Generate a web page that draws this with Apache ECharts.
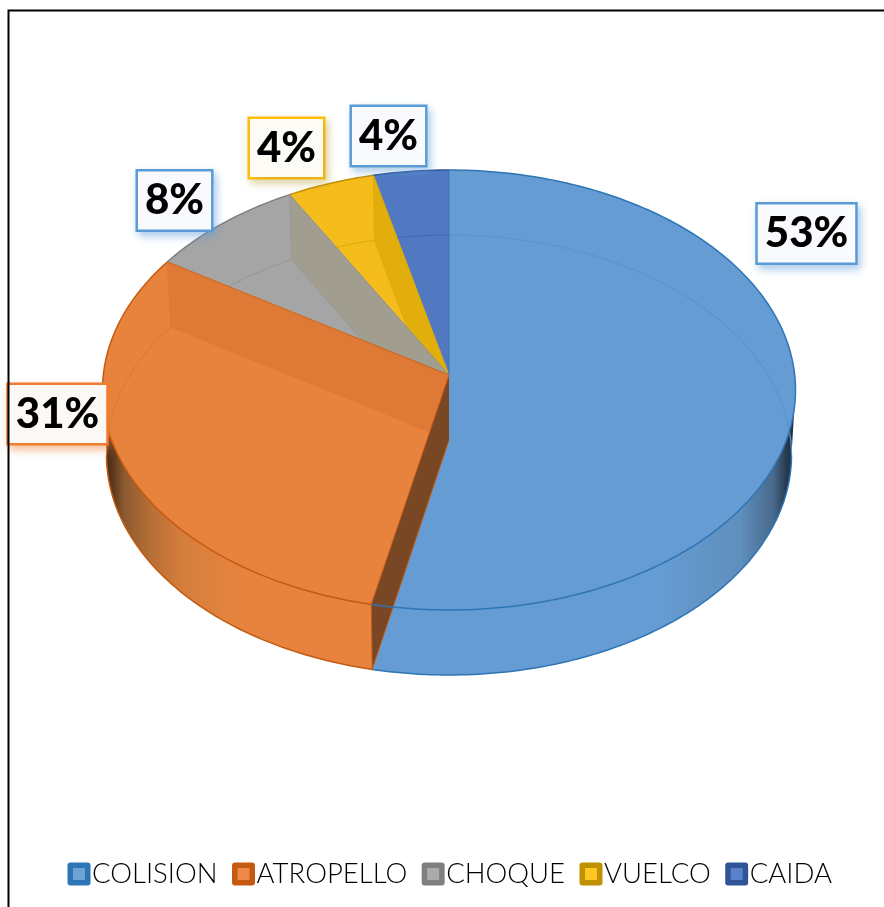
<!DOCTYPE html>
<html>
<head>
<meta charset="utf-8">
<title>Pie</title>
<script src="https://cdn.jsdelivr.net/npm/echarts@6/dist/echarts.min.js"></script>
<style>
  html, body { margin: 0; padding: 0; background: #fff; }
  #chart { width: 884px; height: 907px; }
</style>
</head>
<body>
<div id="chart"></div>
<script>
var categories = ['COLISION', 'ATROPELLO', 'CHOQUE', 'VUELCO', 'CAIDA']
var sliceValues = [53.6, 31.3, 7.5, 4.1, 3.5]
var percentLabels = ['53%', '31%', '8%', '4%', '4%']

// styling, one per category
var faceColors = ['#659cd3', '#e8833e', '#a5a5a5', '#f5bd1b', '#5079c2']
var lineColors = ['#2e75b6', '#c55a11', '#7f7f7f', '#bf9000', '#2f5597']
var edgeColors = [null, '#cc6418', '#8f9090', '#d9a50c', '#3f6fbb']
var wallColors = [null, '#df7a36', '#a19d8f', '#e2ae0b', null]
var innerLineColors = ['#5a94cc', '#dd7b36', '#999999', '#e2ae0b', '#3f6bb6']
var legendInner = ['#6ea3d6', '#ed8a48', '#ababab', '#ffc71f', '#5a82cc']
var boxBorders = ['#5b9bd5', '#ed7d31', '#5b9bd5', '#ffc000', '#5b9bd5']
var boxShadows = ['rgba(91,155,213,0.45)', 'rgba(237,125,49,0.45)', 'rgba(91,155,213,0.45)', 'rgba(190,160,60,0.4)', 'rgba(91,155,213,0.45)']
var boxFills = ['#f8fafe', '#fcf8f5', '#f8fafe', '#fcfbf5', '#f8fafe']
var boxCenters = [[806.5, 233.5], [57.5, 414], [174.5, 200.5], [286.5, 148], [388.5, 136]]

var topEllipse = { cx: 449, cy: 390, rx: 346.5, ry: 220 }
var baseEllipse = { cx: 449, cy: 455, rx: 342.5, ry: 220 }
var apexTop = [449, 375]
var apexBase = [449, 440]

var total = sliceValues.reduce(function (a, b) { return a + b }, 0)

// start / end angle of each slice, clockwise from 12 o'clock
var sliceAngles = []
var running = 0
sliceValues.forEach(function (v) {
  var start = running / total * 360
  running += v
  sliceAngles.push([start, running / total * 360])
})

function onEllipse(e, deg) {
  var r = deg * Math.PI / 180
  return [e.cx + e.rx * Math.sin(r), e.cy - e.ry * Math.cos(r)]
}

function arcPoints(e, from, to) {
  var pts = []
  if (to <= from) return pts
  for (var d = from; d < to; d += 1) pts.push(onEllipse(e, d))
  pts.push(onEllipse(e, to))
  return pts
}

function poly(points, fill, z2) {
  return {
    type: 'polygon',
    z2: z2,
    shape: { points: points },
    style: { fill: fill }
  }
}

function line(points, stroke, z2, width) {
  return {
    type: 'polyline',
    z2: z2,
    shape: { points: points },
    style: { fill: null, stroke: stroke, lineWidth: width || 1.5 }
  }
}

function sideGradient(i) {
  if (i === 0) {
    return new echarts.graphic.LinearGradient(0, 0, 1, 0, [
      { offset: 0, color: '#659cd3' },
      { offset: 0.68, color: '#659cd3' },
      { offset: 0.87, color: '#5f8fbc' },
      { offset: 0.948, color: '#48698c' },
      { offset: 0.98, color: '#26384c' },
      { offset: 1, color: '#1f2e3e' }
    ])
  }
  return new echarts.graphic.LinearGradient(0, 0, 1, 0, [
    { offset: 0, color: '#3a2515' },
    { offset: 0.04, color: '#5e3a1e' },
    { offset: 0.08, color: '#8a5a30' },
    { offset: 0.175, color: '#b66e35' },
    { offset: 0.3, color: '#d57e3d' },
    { offset: 0.485, color: '#e5833e' },
    { offset: 1, color: '#e8833e' }
  ])
}

function renderSlice(i) {
  var a = sliceAngles[i]
  var start = a[0]
  var end = a[1]
  var children = []

  // outside skirt, only the front half of the disc shows it
  var frontFrom = Math.max(start, 90)
  var frontTo = Math.min(end, 270)
  if (frontTo > frontFrom) {
    var topArc = arcPoints(topEllipse, frontFrom, frontTo)
    var baseArc = arcPoints(baseEllipse, frontFrom, frontTo)
    children.push(poly(topArc.concat(baseArc.slice().reverse()), sideGradient(i), 1))
    children.push(line(baseArc, lineColors[i], 2, 1.5))
  }

  // top face
  var rim = arcPoints(topEllipse, start, end)
  children.push(poly([apexTop].concat(rim), faceColors[i], 3))

  // the base circle seen through the face
  var inner = []
  if (start < 90) inner = arcPoints(baseEllipse, start, Math.min(end, 90))
  if (end > 270) inner = arcPoints(baseEllipse, Math.max(start, 270), end)
  if (inner.length) children.push(line(inner, innerLineColors[i], 4, 1.2))

  // wall hanging under the end edge, stacked yellow < gray < orange
  var endTop = onEllipse(topEllipse, end)
  var endBase = onEllipse(baseEllipse, end)
  if (wallColors[i]) {
    children.push(poly([apexTop, endTop, endBase, apexBase], wallColors[i], 20 - i))
    children.push(line([apexBase, endBase, endTop], innerLineColors[i], 20 - i, 1))
  }

  // inside wall of the cut between the first slice and the orange one
  if (i === 1) {
    var startTop = onEllipse(topEllipse, start)
    var startBase = onEllipse(baseEllipse, start)
    children.push(poly([apexTop, startTop, startBase, apexBase], '#7a4724', 25))
    children.push(line([apexTop, startTop, startBase, apexBase], lineColors[1], 26, 1))
  }

  // rim and end edge
  children.push(line(rim, lineColors[i], 30, 1.5))
  if (edgeColors[i]) children.push(line([apexTop, endTop], edgeColors[i], 28, 1))

  return { type: 'group', children: children }
}

function renderBox(i) {
  return {
    type: 'text',
    z2: 50,
    x: boxCenters[i][0],
    y: boxCenters[i][1],
    style: {
      text: percentLabels[i],
      font: '900 42px Lato',
      fill: '#000',
      align: 'center',
      verticalAlign: 'middle',
      backgroundColor: boxFills[i],
      borderColor: boxBorders[i],
      borderWidth: 2.5,
      padding: [8, 7, 8, 7],
      shadowColor: boxShadows[i],
      shadowBlur: 8,
      shadowOffsetX: 3,
      shadowOffsetY: 4
    }
  }
}

var series = categories.map(function (name, i) {
  return {
    name: name,
    type: 'custom',
    coordinateSystem: 'none',
    silent: true,
    animation: false,
    data: [sliceValues[i]],
    itemStyle: { color: legendInner[i] },
    renderItem: function () {
      var g = renderSlice(i)
      g.children.push(renderBox(i))
      return g
    }
  }
})

// legend swatch, a dark rounded square holding a lighter one
function legendIcon(i) {
  var svg = '<svg xmlns="http://www.w3.org/2000/svg" width="24" height="24">' +
    '<rect x="0.5" y="0.5" width="23" height="23" rx="3" fill="' + lineColors[i] + '"/>' +
    '<rect x="6" y="6" width="12" height="12" fill="' + legendInner[i] + '"/></svg>'
  return 'image://data:image/svg+xml;charset=utf-8,' + encodeURIComponent(svg)
}

var myChart = echarts.init(document.getElementById('chart'))
var option = {
  animation: false,
  legend: {
    top: 860,
    left: 67,
    padding: 0,
    itemWidth: 24,
    itemHeight: 24,
    itemGap: 14,
    textStyle: { fontFamily: 'Lato', fontWeight: 300, fontSize: 27.5, color: '#000', padding: [0, 0, 0, -4] },
    data: categories.map(function (name, i) {
      return { name: name, icon: legendIcon(i) }
    })
  },
  graphic: [
    {
      type: 'polyline',
      z: 100,
      shape: { points: [[8.5, 907], [8.5, 10.5], [884, 10.5]] },
      style: { fill: null, stroke: '#000', lineWidth: 2 }
    }
  ],
  series: series
}
myChart.setOption(option)
</script>
</body>
</html>
